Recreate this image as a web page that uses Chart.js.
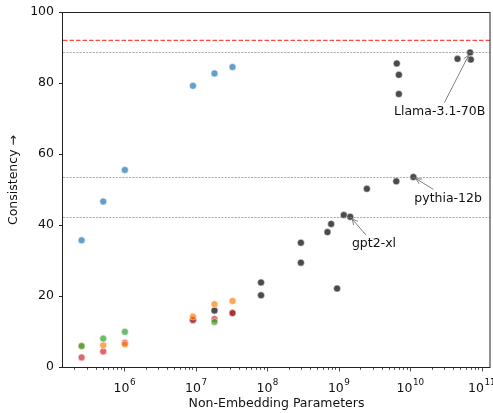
<!DOCTYPE html>
<html>
<head>
<meta charset="utf-8">
<script src="https://cdn.jsdelivr.net/npm/chart.js@4.4.1/dist/chart.umd.min.js"></script>
<style>
  html, body { margin: 0; padding: 0; background: #fff; }
  canvas { display: block; }
</style>
</head>
<body>
<canvas id="chart" width="493" height="413"></canvas>
<script>
const FONT = '"DejaVu Sans", sans-serif';

// all models (dark points)
const otherParams = [9.15e6, 1.83e7, 3.27e7, 8.2e7, 8.2e7, 2.96e8, 2.96e8, 6.97e8, 7.85e8, 9.5e8,
                     1.18e9, 1.45e9, 2.48e9, 6.4e9, 1.11e10, 6.5e9, 6.95e9, 6.95e9, 4.6e10, 6.9e10, 7.06e10];
const otherScores = [13.2, 15.9, 15.2, 23.8, 20.2, 35.0, 29.4, 38.0, 40.3, 22.1,
                     42.8, 42.3, 50.2, 52.3, 53.5, 85.5, 82.3, 76.9, 86.8, 88.6, 86.6];

// small model families
const familyParams = [2.53e5, 5.08e5, 1.02e6, 9.15e6, 1.83e7, 3.27e7];
const blueScores   = [35.7, 46.6, 55.5, 79.2, 82.7, 84.5];
const orangeScores = [5.9, 6.1, 6.4, 14.2, 17.7, 18.6];
const greenParams  = [2.53e5, 5.08e5, 1.02e6, 1.83e7];
const greenScores  = [5.9, 8.0, 9.9, 12.7];
const redScores    = [2.7, 4.4, 6.8, 13.3, 13.5, 15.2];

// horizontal reference levels
const redLine = 92.0;
const grayLines = [88.6, 53.5, 42.3];

// labelled models: point and text position
const noteLabels = ['Llama-3.1-70B', 'pythia-12b', 'gpt2-xl'];
const noteX = [6.9e10, 1.11e10, 1.45e9];
const noteY = [88.6, 53.5, 42.3];
const noteTextX = [2.59e10, 3.40e10, 3.12e9];
const noteTextY = [71.9, 47.5, 34.6];

const yTicks = [0, 20, 40, 60, 80, 100];
const xMajorTicks = [1e6, 1e7, 1e8, 1e9, 1e10, 1e11];

const pts = (xs, ys) => xs.map((x, i) => ({ x: x, y: ys[i] }));

function series(xs, ys, color) {
  return {
    data: pts(xs, ys),
    backgroundColor: color,
    borderColor: 'rgba(255,255,255,0.85)',
    borderWidth: 0.6,
    pointRadius: 3.5,
    pointHoverRadius: 3.5
  };
}

function drawArrow(ctx, x0, y0, x1, y1) {
  const ang = Math.atan2(y1 - y0, x1 - x0);
  const hl = 5.5, hw = 2.8;
  ctx.beginPath();
  ctx.moveTo(x0, y0);
  ctx.lineTo(x1, y1);
  ctx.moveTo(x1 - hl * Math.cos(ang) + hw * Math.sin(ang), y1 - hl * Math.sin(ang) - hw * Math.cos(ang));
  ctx.lineTo(x1, y1);
  ctx.lineTo(x1 - hl * Math.cos(ang) - hw * Math.sin(ang), y1 - hl * Math.sin(ang) + hw * Math.cos(ang));
  ctx.stroke();
}

const decorations = {
  id: 'decorations',
  afterDatasetsDraw(chart) {
    const ctx = chart.ctx;
    const xs = chart.scales.x, ys = chart.scales.y;
    const a = chart.chartArea;
    ctx.save();

    // reference lines
    ctx.lineWidth = 0.7;
    ctx.strokeStyle = '#8a8a8a';
    ctx.setLineDash([2.2, 1.1]);
    grayLines.forEach(v => {
      const y = Math.round(ys.getPixelForValue(v)) + 0.5;
      ctx.beginPath(); ctx.moveTo(a.left, y); ctx.lineTo(a.right, y); ctx.stroke();
    });
    ctx.lineWidth = 1.3;
    ctx.strokeStyle = 'rgba(255,40,40,0.85)';
    ctx.setLineDash([4.5, 2]);
    const ry = ys.getPixelForValue(redLine);
    ctx.beginPath(); ctx.moveTo(a.left, ry); ctx.lineTo(a.right, ry); ctx.stroke();
    ctx.setLineDash([]);

    // frame
    ctx.strokeStyle = '#222';
    ctx.lineWidth = 1;
    ctx.strokeRect(Math.round(a.left) - 0.5, Math.round(a.top) + 0.5,
                   Math.round(a.right - a.left) + 0.5, Math.round(a.bottom - a.top));

    // y tick marks
    ctx.beginPath();
    yTicks.forEach(v => {
      const y = Math.round(ys.getPixelForValue(v)) + 0.5;
      ctx.moveTo(a.left - 4, y); ctx.lineTo(a.left, y);
    });
    ctx.stroke();

    // x tick marks, major and minor
    const bottom = Math.round(a.bottom) + 0.5;
    ctx.beginPath();
    for (let e = 5; e <= 11; e++) {
      for (let m = 1; m <= 9; m++) {
        const v = m * Math.pow(10, e);
        if (v < xs.min || v > xs.max) continue;
        const x = Math.round(xs.getPixelForValue(v)) + 0.5;
        ctx.moveTo(x, bottom);
        ctx.lineTo(x, bottom + (m === 1 ? 4 : 2.3));
      }
    }
    ctx.lineWidth = 0.8;
    ctx.stroke();

    // x tick labels as 10^n
    ctx.fillStyle = '#111';
    ctx.textBaseline = 'alphabetic';
    xMajorTicks.forEach(v => {
      const x = xs.getPixelForValue(v);
      const exp = String(Math.round(Math.log10(v)));
      ctx.font = '12.5px ' + FONT;
      const wb = ctx.measureText('10').width;
      ctx.font = '8.8px ' + FONT;
      const we = ctx.measureText(exp).width;
      const x0 = x - (wb + we) / 2;
      ctx.font = '12.5px ' + FONT;
      ctx.textAlign = 'left';
      ctx.fillText('10', x0, 392);
      ctx.font = '8.8px ' + FONT;
      ctx.fillText(exp, x0 + wb + 0.5, 385);
    });

    // axis titles
    ctx.font = '12.5px ' + FONT;
    ctx.textAlign = 'center';
    ctx.textBaseline = 'middle';
    ctx.fillText('Non-Embedding Parameters', (a.left + a.right) / 2, 404);
    ctx.save();
    ctx.translate(14, 180);
    ctx.rotate(-Math.PI / 2);
    ctx.fillText('Consistency \u2192', 0, 0);
    ctx.restore();

    // annotations
    ctx.strokeStyle = '#808080';
    ctx.lineWidth = 1;
    noteLabels.forEach((txt, i) => {
      const tx = xs.getPixelForValue(noteTextX[i]);
      const ty = ys.getPixelForValue(noteTextY[i]);
      const px = xs.getPixelForValue(noteX[i]);
      const py = ys.getPixelForValue(noteY[i]);
      ctx.fillStyle = '#111';
      ctx.font = '12.5px ' + FONT;
      ctx.fillText(txt, tx, ty);
      const w = ctx.measureText(txt).width / 2 + 3, h = 9;
      const dx = px - tx, dy = py - ty;
      const t = Math.min(Math.abs(w / dx), Math.abs(h / dy));
      const sx = tx + dx * t, sy = ty + dy * t;
      const len = Math.hypot(px - sx, py - sy);
      const ex = px - (px - sx) / len * 3, ey = py - (py - sy) / len * 3;
      drawArrow(ctx, sx, sy, ex, ey);
    });

    ctx.restore();
  }
};

// listed top-first: Chart.js paints the first dataset last
new Chart(document.getElementById('chart'), {
  type: 'scatter',
  data: {
    datasets: [
      series(greenParams, greenScores, 'rgba(44,160,44,0.7)'),
      series(familyParams, orangeScores, 'rgba(255,127,14,0.7)'),
      series(familyParams, redScores, 'rgba(214,39,40,0.7)'),
      series(familyParams, blueScores, 'rgba(31,119,180,0.7)'),
      series(otherParams, otherScores, 'rgba(35,35,35,0.82)')
    ]
  },
  options: {
    responsive: false,
    animation: false,
    events: [],
    layout: { autoPadding: false, padding: { top: 12, right: 3, left: 0, bottom: 0 } },
    plugins: { legend: { display: false }, tooltip: { enabled: false } },
    scales: {
      x: {
        type: 'logarithmic',
        min: 1.39e5,
        max: 1.31e11,
        grid: { display: false, drawTicks: false },
        border: { display: false },
        ticks: { display: false },
        afterFit: s => { s.height = 46; }
      },
      y: {
        min: 0,
        max: 100,
        afterBuildTicks: s => { s.ticks = yTicks.map(v => ({ value: v })); },
        grid: { display: false, drawTicks: false },
        border: { display: false },
        ticks: { color: '#111', padding: 9, font: { family: FONT, size: 12.5 } },
        // no extra label padding so the plot spans the full height
        afterFit: s => { s.width = 63; s.paddingTop = 0; s.paddingBottom = 0; }
      }
    }
  },
  plugins: [decorations]
});
</script>
</body>
</html>
